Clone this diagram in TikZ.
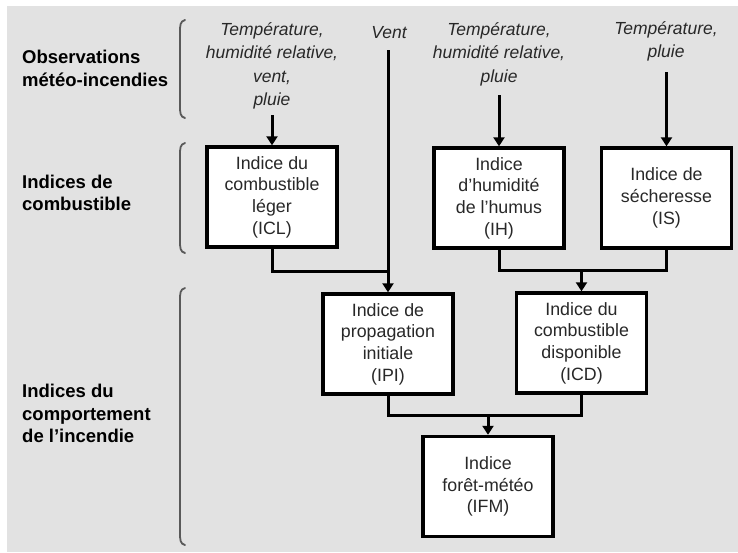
\documentclass[tikz,border=0pt]{standalone}
\usepackage{fontspec}
\setmainfont{Liberation Sans}
\usetikzlibrary{arrows.meta}
\definecolor{bg}{RGB}{226,226,226}
\definecolor{txt}{RGB}{40,40,40}
\tikzset{
  boxnode/.style={draw=black, line width=3.4pt, fill=white, minimum width=130pt, minimum height=100pt,
    inner sep=0pt, align=center, text=txt, font=\fontsize{17.8}{21.7}\selectfont},
  inlabel/.style={align=center, text=txt, font=\fontsize{17.5}{23.5}\selectfont\itshape, inner sep=0pt},
  grouplabel/.style={align=left, anchor=west, text=black, font=\fontsize{18.5}{22.5}\selectfont\bfseries, inner sep=0pt},
  conn/.style={line width=3pt, draw=black},
  arr/.style={conn, -{Triangle[length=9pt,width=11pt]}},
  brk/.style={line width=1.8pt, draw=black!65, line cap=round}
}
\begin{document}
\begin{tikzpicture}[x=1pt,y=-1pt]
\useasboundingbox (0,0) rectangle (738,552);
\fill[white] (0,0) rectangle (738,552);
\fill[bg] (7,6) rectangle (738,552);

% group labels
\node[grouplabel] (g1) at (22,68.5) {Observations\\météo-incendies};
\node[grouplabel] (g2) at (22,193) {Indices de\\combustible};
\node[grouplabel] (g3) at (22,413.5) {Indices du\\comportement\\de l’incendie};

% brackets
\draw[brk] (185,20) .. controls (180,21) and (180,26) .. (180,32) -- (180,106) .. controls (180,112) and (180,117) .. (185,118);
\draw[brk] (185,143) .. controls (180,144) and (180,149) .. (180,155) -- (180,241) .. controls (180,247) and (180,252) .. (185,253);
\draw[brk] (185,288) .. controls (180,289) and (180,294) .. (180,300) -- (180,533) .. controls (180,539) and (180,544) .. (185,545);

% input labels
\node[inlabel] (t1) at (272,66) {Température,\\humidité relative,\\vent,\\pluie};
\node[inlabel] (t2) at (389,33) {Vent};
\node[inlabel] (t3) at (499,54) {Température,\\humidité relative,\\pluie};
\node[inlabel] (t4) at (666,41.5) {Température,\\pluie};

% boxes
\node[boxnode] (icl) at (272,197) {Indice du\\combustible\\léger\\(ICL)};
\node[boxnode] (ih) at (499,198) {Indice\\d’humidité\\de l’humus\\(IH)};
\node[boxnode] (is) at (666.5,198) {Indice de\\sécheresse\\(IS)};
\node[boxnode] (ipi) at (388,344) {Indice de\\propagation\\initiale\\(IPI)};
\node[boxnode] (icd) at (581.5,343) {Indice du\\combustible\\disponible\\(ICD)};
\node[boxnode] (ifm) at (488,486.5) {Indice\\forêt-météo\\(IFM)};

% connector anchor points
\coordinate (s1) at (272,115);
\coordinate (s2) at (388,50);
\coordinate (s3) at (499,95);
\coordinate (s4) at (666.5,72);
\coordinate (j1) at (388,271);
\coordinate (j2) at (581.5,270);
\coordinate (j3) at (488,415);

% arrows
\draw[arr] (s1) -- (icl.north);
\draw[arr] (s3) -- (ih.north);
\draw[arr] (s4) -- (is.north);
\draw[arr] (s2) -- (ipi.north);
\draw[conn] (icl.south) |- (j1);
\draw[conn] (ih.south) |- (j2) -| (is.south);
\draw[arr] (j2) -- (icd.north);
\draw[conn] (ipi.south) |- (j3) -| (icd.south);
\draw[arr] (j3) -- (ifm.north);
\end{tikzpicture}
\end{document}
